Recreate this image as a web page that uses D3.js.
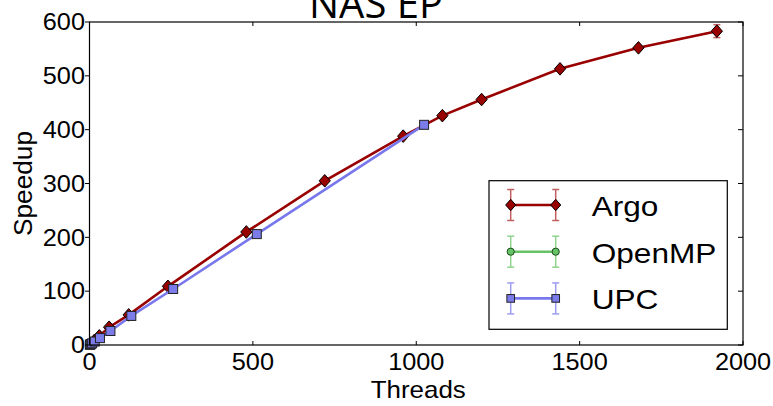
<!DOCTYPE html>
<html lang="en">
<head>
<meta charset="UTF-8">
<title>NAS EP</title>
<script src="https://d3js.org/d3.v7.min.js"></script>
<style>
  body { margin: 0; background: #fff; }
  text { font-family: "Liberation Sans", Arial, sans-serif; fill: #000; }
</style>
</head>
<body>
<svg id="chart" width="773" height="406"></svg>
<script>
// data
const argoThreads = [15, 30, 60, 120, 240, 480, 720, 960, 1080, 1200, 1440, 1680, 1920];
const argoSpeedup = [8.5, 17, 33, 56, 109, 210, 305, 388, 426, 456, 513, 552, 583];
const argoErr     = [0.5, 0.5, 1, 1, 1.5, 2, 2, 3, 3, 3, 4, 4, 12];

const ompThreads = [1, 2, 4, 8];
const ompSpeedup = [0.5, 1, 2, 3.8];
const ompErr     = [0.1, 0.1, 0.1, 0.2];

const upcThreads = [1, 2, 4, 8, 16, 32, 64, 128, 256, 512, 1024];
const upcSpeedup = [0.4, 0.8, 1.6, 3.2, 6.4, 12.8, 26, 54, 104, 206, 409];
const upcErr     = [0.1, 0.1, 0.1, 0.2, 0.3, 0.4, 0.5, 0.8, 1, 1.5, 2];

const xTicks = [0, 500, 1000, 1500, 2000];
const yTicks = [0, 100, 200, 300, 400, 500, 600];

const seriesNames = ["Argo", "OpenMP", "UPC"];

const svg = d3.select("#chart");
const margin = { top: 22, right: 30, bottom: 61, left: 89.5 };
const W = 773, H = 406;
const x = d3.scaleLinear().domain([0, 2000]).range([margin.left, W - margin.right]);
const y = d3.scaleLinear().domain([0, 600]).range([H - margin.bottom, margin.top]);

const series = [
  { name: seriesNames[0], t: argoThreads, s: argoSpeedup, e: argoErr,
    line: "#990000", fill: "#990000", err: "#c26060", marker: "diamond" },
  { name: seriesNames[1], t: ompThreads, s: ompSpeedup, e: ompErr,
    line: "#66c266", fill: "#66c266", err: "#8fd38f", marker: "circle" },
  { name: seriesNames[2], t: upcThreads, s: upcSpeedup, e: upcErr,
    line: "#7878ec", fill: "#7b7bea", err: "#9d9df0", marker: "square" }
];

// text with a little horizontal stretch, like the reference
function label(g, px, py, str, size, anchor, sx) {
  return g.append("text")
    .attr("transform", `translate(${px},${py}) scale(${sx},1)`)
    .attr("text-anchor", anchor)
    .attr("font-size", size + "px")
    .text(str);
}

function drawMarker(g, type, cx, cy, fill, scale) {
  const k = scale || 1;
  if (type === "diamond") {
    g.append("path")
      .attr("d", `M${cx},${cy - 6.3 * k}L${cx + 5.6 * k},${cy}L${cx},${cy + 6.3 * k}L${cx - 5.6 * k},${cy}Z`)
      .attr("fill", fill).attr("stroke", "#000").attr("stroke-width", 1);
  } else if (type === "square") {
    const h = 4.5 * k;
    g.append("rect")
      .attr("x", cx - h).attr("y", cy - h).attr("width", 2 * h).attr("height", 2 * h)
      .attr("fill", fill).attr("stroke", "#222").attr("stroke-width", 1);
  } else {
    g.append("circle")
      .attr("cx", cx).attr("cy", cy).attr("r", 4 * k)
      .attr("fill", fill).attr("stroke", "#1a4d1a").attr("stroke-width", 1);
  }
}

function errBar(g, cx, cy0, cy1, color) {
  g.append("line").attr("x1", cx).attr("x2", cx).attr("y1", cy0).attr("y2", cy1)
    .attr("stroke", color).attr("stroke-width", 1.5);
  [cy0, cy1].forEach(v => g.append("line")
    .attr("x1", cx - 3.5).attr("x2", cx + 3.5).attr("y1", v).attr("y2", v)
    .attr("stroke", color).attr("stroke-width", 1.5));
}

// series
const plot = svg.append("g");
series.forEach(sr => {
  const pts = sr.t.map((t, i) => [t, sr.s[i], sr.e[i]]);
  const g = plot.append("g");
  pts.forEach(p => errBar(g, x(p[0]), y(p[1] + p[2]), y(p[1] - p[2]), sr.err));
  g.append("path")
    .datum(pts)
    .attr("fill", "none")
    .attr("stroke", sr.line)
    .attr("stroke-width", 2.6)
    .attr("d", d3.line().x(d => x(d[0])).y(d => y(d[1])));
  pts.forEach(p => drawMarker(g, sr.marker, x(p[0]), y(p[1]), sr.fill));
});

// frame
const x0 = x(0), x1 = x(2000), y0 = y(0), y1 = y(600);
svg.append("rect")
  .attr("x", x0).attr("y", y1).attr("width", x1 - x0).attr("height", y0 - y1)
  .attr("fill", "none").attr("stroke", "#000").attr("stroke-width", 1.2);

// ticks
const axes = svg.append("g");
xTicks.forEach(t => {
  axes.append("line").attr("x1", x(t)).attr("x2", x(t)).attr("y1", y0).attr("y2", y0 - 4)
    .attr("stroke", "#000");
  axes.append("line").attr("x1", x(t)).attr("x2", x(t)).attr("y1", y1).attr("y2", y1 + 4)
    .attr("stroke", "#000");
  label(axes, x(t), 370, t, 23, "middle", 1.1);
});
yTicks.forEach(t => {
  axes.append("line").attr("x1", x0 - 4.5).attr("x2", x0).attr("y1", y(t)).attr("y2", y(t))
    .attr("stroke", "#000");
  axes.append("line").attr("x1", x1 - 5).attr("x2", x1).attr("y1", y(t)).attr("y2", y(t))
    .attr("stroke", "#000");
  label(axes, 85, y(t) + 8.2, t, 23, "end", 1.1);
});

// axis titles
label(svg, (x0 + x1) / 2 + 2, 398, "Threads", 24, "middle", 1.08);
svg.append("text")
  .attr("transform", `translate(31.5,${(y0 + y1) / 2}) rotate(-90) scale(1.05,1)`)
  .attr("text-anchor", "middle")
  .attr("font-size", "25px")
  .text("Speedup");

// title
svg.append("text")
  .attr("x", 376).attr("y", 18)
  .attr("text-anchor", "middle")
  .attr("font-size", "40px")
  .style("font-family", "'Open Sans', sans-serif")
  .text("NAS EP");

// legend
const leg = svg.append("g");
leg.append("rect")
  .attr("x", 489).attr("y", 180.7).attr("width", 238.3).attr("height", 148.6)
  .attr("fill", "#fff").attr("stroke", "#000").attr("stroke-width", 1.2);
series.forEach((sr, i) => {
  const ry = 205 + i * 46.7;
  const lx0 = 510.7, lx1 = 555.7;
  [lx0, lx1].forEach(lx => errBar(leg, lx, ry - 15.5, ry + 15.5, sr.err));
  leg.append("line").attr("x1", lx0).attr("x2", lx1).attr("y1", ry).attr("y2", ry)
    .attr("stroke", sr.line).attr("stroke-width", 2.6);
  [lx0, lx1].forEach(lx => drawMarker(leg, sr.marker, lx, ry, sr.fill, sr.marker === "square" ? 0.85 : 0.9));
  label(leg, 591.7, ry + 11, sr.name, 27, "start", 1.17);
});
</script>
</body>
</html>
